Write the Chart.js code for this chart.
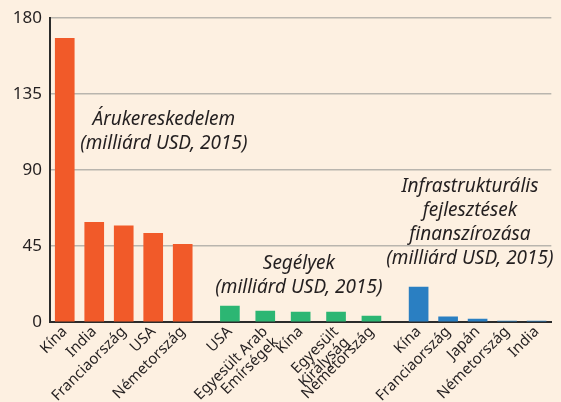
<!DOCTYPE html>
<html lang="hu">
<head>
  <meta charset="UTF-8">
  <title>Kína, USA és mások – kereskedelem, segélyek, infrastruktúra</title>
  <script src="https://cdn.jsdelivr.net/npm/chart.js"></script>
  <style>
    html, body { margin: 0; padding: 0; background: #fdf0e1; }
    #wrap { width: 561px; height: 402px; }
  </style>
</head>
<body>
  <div id="wrap"><canvas id="chart" width="561" height="402"></canvas></div>

  <script>
    // trade (orange), aid (green), infrastructure finance (blue) - bn USD, 2015
    const tradeCountries = ['Kína', 'India', 'Franciaország', 'USA', 'Németország'];
    const tradeValues = [168, 59, 57, 52.5, 46];

    const aidCountries = ['USA', ['Egyesült Arab', 'Emírségek'], 'Kína', ['Egyesült', 'Királyság'], 'Németország'];
    const aidValues = [9.4, 6.5, 5.9, 5.9, 3.5];

    const infraCountries = ['Kína', 'Franciaország', 'Japán', 'Németország', 'India'];
    const infraValues = [20.7, 3, 1.8, 0.6, 0.6];

    const yTicks = [0, 45, 90, 135, 180];

    // the x axis is cut into narrow slots so the groups can have
    // their own spacing (aid bars sit a bit further apart)
    const groups = [
      { names: tradeCountries, vals: tradeValues, color: '#f15a29', pitch: 5 },
      { names: aidCountries, vals: aidValues, color: '#2cb673', pitch: 6 },
      { names: infraCountries, vals: infraValues, color: '#2a7fc2', pitch: 5 }
    ];
    const leadSlots = 2, groupGap = 8, slotCount = 85;

    const labels = new Array(slotCount).fill('');
    const values = new Array(slotCount).fill(null);
    const colors = new Array(slotCount).fill('transparent');
    let last = leadSlots - groupGap;
    groups.forEach(g => {
      let slot = last + groupGap;
      g.names.forEach((n, i) => {
        labels[slot] = n;
        values[slot] = g.vals[i];
        colors[slot] = g.color;
        last = slot;
        slot += g.pitch;
      });
    });

    const notes = [
      { lines: ['Árukereskedelem', '(milliárd USD, 2015)'], slot: 18.8, value: 120 },
      { lines: ['Segélyek', '(milliárd USD, 2015)'], slot: 41.7, value: 34.5 },
      { lines: ['Infrastrukturális', 'fejlesztések', 'finanszírozása', '(milliárd USD, 2015)'], slot: 70.7, value: 80.5 }
    ];

    const notePlugin = {
      id: 'notes',
      afterDatasetsDraw(chart) {
        const { ctx, scales } = chart;
        ctx.save();
        ctx.fillStyle = '#231f20';
        ctx.font = 'italic 19px "Noto Sans"';
        ctx.textAlign = 'center';
        ctx.textBaseline = 'middle';
        notes.forEach(n => {
          const x = scales.x.getPixelForValue(n.slot);
          const y = scales.y.getPixelForValue(n.value);
          n.lines.forEach((t, i) => ctx.fillText(t, x, y + i * 24));
        });
        ctx.restore();
      }
    };

    new Chart(document.getElementById('chart'), {
      type: 'bar',
      data: {
        labels: labels,
        datasets: [{
          data: values,
          backgroundColor: colors,
          barThickness: 19
        }]
      },
      options: {
        responsive: false,
        animation: false,
        layout: { padding: { top: 10, right: 4, left: 0, bottom: 0 } },
        plugins: {
          legend: { display: false },
          tooltip: { enabled: false }
        },
        scales: {
          x: {
            grid: { display: false, drawTicks: false },
            border: { color: '#2b2b2b', width: 2 },
            ticks: {
              color: '#231f20',
              font: { family: '"Noto Sans"', size: 15, lineHeight: 1.0 },
              minRotation: 45,
              maxRotation: 45,
              autoSkip: false,
              padding: 2
            },
            afterFit(scale) { scale.height = 80; }
          },
          y: {
            min: 0,
            max: 180,
            afterBuildTicks(scale) { scale.ticks = yTicks.map(v => ({ value: v })); },
            grid: { color: '#b9b5ae', lineWidth: 1.5, drawTicks: false },
            border: { color: '#2b2b2b', width: 2 },
            ticks: {
              color: '#231f20',
              font: { family: '"Noto Sans"', size: 17 },
              padding: 8
            },
            afterFit(scale) { scale.width = 50; }
          }
        }
      },
      plugins: [notePlugin]
    });
  </script>
</body>
</html>
